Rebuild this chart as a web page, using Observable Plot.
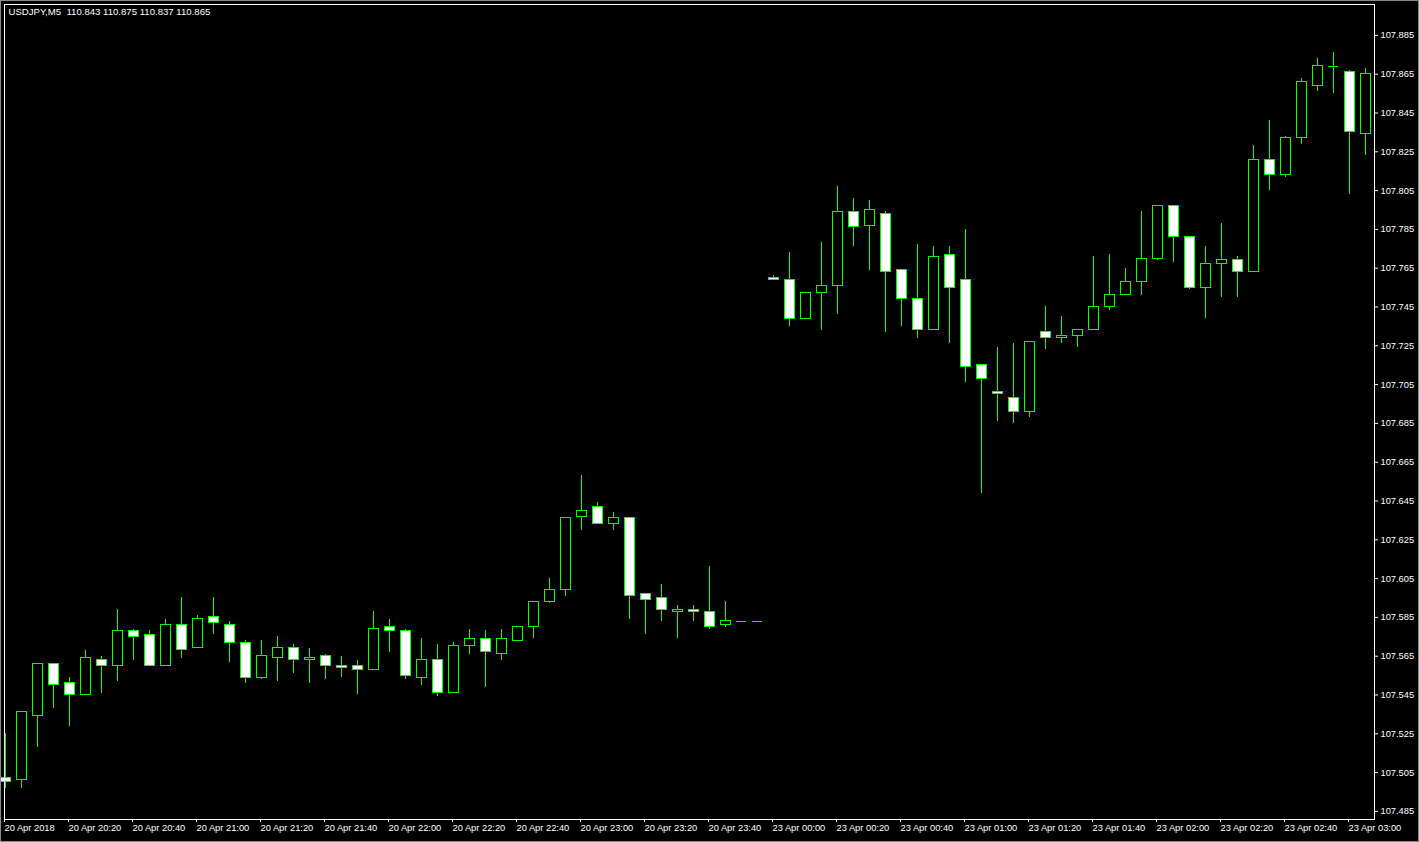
<!DOCTYPE html>
<html><head><meta charset="utf-8">
<script src="https://cdn.jsdelivr.net/npm/d3@7"></script>
<script src="https://cdn.jsdelivr.net/npm/@observablehq/plot@0.6"></script>
<style>
html,body{margin:0;padding:0;background:#000;overflow:hidden;}
#chart{position:relative;width:1419px;height:842px;}
#border{position:absolute;left:0;top:0;width:1419px;height:842px;box-sizing:border-box;border:1px solid #8a8a8a;pointer-events:none;}
svg{display:block;}
</style></head><body><div id="chart"><div id="border"></div></div>
<script>
const title = "USDJPY,M5\u00a0 110.843 110.875 110.837 110.865";

const open = [107.502,107.501,107.534,107.561,107.551,107.545,107.563,107.560,107.578,107.576,
107.560,107.581,107.569,107.585,107.581,107.572,107.554,107.564,107.569,107.563,
107.565,107.560,107.560,107.558,107.580,107.578,107.554,107.563,107.546,107.570,
107.574,107.566,107.573,107.580,107.593,107.599,107.637,107.642,107.633,107.636,
107.597,107.595,107.588,107.589,107.588,107.581,107.583,107.583,107.760,107.759,
107.739,107.752,107.756,107.794,107.787,107.793,107.764,107.749,107.733,107.772,
107.759,107.715,107.701,107.698,107.691,107.732,107.729,107.730,107.733,107.745,
107.751,107.758,107.770,107.797,107.781,107.755,107.767,107.769,107.763,107.821,
107.813,107.832,107.859,107.869,107.866,107.834];

const high = [107.525,107.536,107.561,107.561,107.554,107.568,107.565,107.589,107.579,107.578,
107.584,107.595,107.586,107.595,107.583,107.573,107.573,107.575,107.571,107.569,
107.566,107.565,107.563,107.588,107.584,107.579,107.574,107.571,107.572,107.579,
107.578,107.579,107.580,107.593,107.605,107.636,107.658,107.644,107.639,107.636,
107.597,107.602,107.591,107.591,107.611,107.593,107.583,107.583,107.761,107.773,
107.752,107.778,107.807,107.801,107.800,107.794,107.764,107.777,107.776,107.776,
107.785,107.715,107.724,107.726,107.727,107.745,107.740,107.733,107.771,107.772,
107.765,107.794,107.797,107.797,107.781,107.776,107.788,107.771,107.828,107.841,
107.833,107.863,107.873,107.876,107.867,107.868];

const low = [107.497,107.497,107.518,107.538,107.529,107.545,107.546,107.552,107.563,107.560,
107.560,107.564,107.569,107.576,107.562,107.551,107.553,107.552,107.556,107.551,
107.553,107.554,107.545,107.558,107.567,107.553,107.550,107.544,107.546,107.566,
107.549,107.563,107.573,107.574,107.592,107.596,107.630,107.633,107.630,107.584,
107.576,107.583,107.574,107.583,107.579,107.580,107.583,107.583,107.759,107.735,
107.739,107.733,107.741,107.776,107.764,107.732,107.735,107.729,107.733,107.726,
107.706,107.649,107.686,107.685,107.688,107.723,107.726,107.724,107.733,107.743,
107.751,107.751,107.769,107.768,107.754,107.739,107.750,107.750,107.763,107.805,
107.812,107.829,107.856,107.855,107.803,107.823];

const close = [107.500,107.536,107.561,107.550,107.545,107.564,107.560,107.578,107.575,107.560,
107.581,107.568,107.584,107.582,107.572,107.554,107.565,107.569,107.563,107.564,
107.560,107.559,107.558,107.579,107.578,107.555,107.563,107.546,107.570,107.574,
107.567,107.574,107.580,107.593,107.599,107.636,107.640,107.633,107.636,107.596,
107.594,107.589,107.589,107.588,107.580,107.583,107.583,107.583,107.759,107.739,
107.752,107.756,107.794,107.786,107.795,107.763,107.749,107.733,107.771,107.755,
107.714,107.708,107.700,107.691,107.727,107.729,107.730,107.733,107.745,107.751,
107.758,107.770,107.797,107.781,107.755,107.767,107.769,107.763,107.821,107.813,
107.832,107.861,107.869,107.869,107.835,107.865];

const xTickBars = [0,4,8,12,16,20,24,28,32,36,40,44,48,52,56,60,64,68,72,76,80,84];
const xLabels = ["20 Apr 2018","20 Apr 20:20","20 Apr 20:40","20 Apr 21:00","20 Apr 21:20","20 Apr 21:40",
"20 Apr 22:00","20 Apr 22:20","20 Apr 22:40","20 Apr 23:00","20 Apr 23:20","20 Apr 23:40",
"23 Apr 00:00","23 Apr 00:20","23 Apr 00:40","23 Apr 01:00","23 Apr 01:20","23 Apr 01:40",
"23 Apr 02:00","23 Apr 02:20","23 Apr 02:40","23 Apr 03:00"];
const yTicks = [107.485,107.505,107.525,107.545,107.565,107.585,107.605,107.625,107.645,107.665,
107.685,107.705,107.725,107.745,107.765,107.785,107.805,107.825,107.845,107.865,107.885];

const LIME = "#00ff00";
const HALF = 0.3125; // half body width in bar units

const bars = open.map((o, i) => ({i, o, h: high[i], l: low[i], c: close[i]}));
const bodies = bars.filter(d => d.o !== d.c);
const dojis = bars.filter(d => d.o === d.c);
const crisp = {shapeRendering: "crispEdges"};

const chart = Plot.plot({
  width: 1419,
  height: 842,
  marginLeft: 4,
  marginRight: 45,
  marginTop: 4,
  marginBottom: 23,
  style: {background: "#000", color: "#fff", fontFamily: "'Liberation Sans', Arial, sans-serif", fontSize: "9.3px"},
  x: {type: "linear", domain: [-0.0625, 85.5625]},
  y: {type: "linear", domain: [107.48082, 107.90093]},
  marks: [
    Plot.ruleX(bars, {x: "i", y1: "l", y2: "h", stroke: LIME, strokeWidth: 1, ...crisp}),
    Plot.rect(bodies.filter(d => d.c > d.o), {x1: d => d.i - HALF, x2: d => d.i + HALF, y1: "o", y2: "c", fill: "#000", stroke: LIME, strokeWidth: 1, ...crisp}),
    Plot.rect(bodies.filter(d => d.c < d.o), {x1: d => d.i - HALF, x2: d => d.i + HALF, y1: "c", y2: "o", fill: "#fff", stroke: LIME, strokeWidth: 1, ...crisp}),
    Plot.ruleY(dojis, {y: "o", x1: d => d.i - HALF, x2: d => d.i + HALF, stroke: LIME, strokeWidth: 1, ...crisp}),
    Plot.frame({stroke: "#fff", strokeWidth: 1, ...crisp}),
    Plot.axisY(yTicks, {anchor: "right", tickSize: 3, tickPadding: 3, tickFormat: d => d.toFixed(3), color: "#fff", label: null}),
    Plot.axisX(xTickBars, {anchor: "bottom", tickSize: 3, tickPadding: 2, tickFormat: d => xLabels[xTickBars.indexOf(d)], textAnchor: "start", dx: -1, color: "#fff", label: null}),
    Plot.text([title], {text: d => d, frameAnchor: "top-left", dx: 4, dy: 4, textAnchor: "start", lineAnchor: "top", fill: "#fff", fontSize: 9.6})
  ]
});
document.getElementById("chart").prepend(chart);
</script>
</body></html>
